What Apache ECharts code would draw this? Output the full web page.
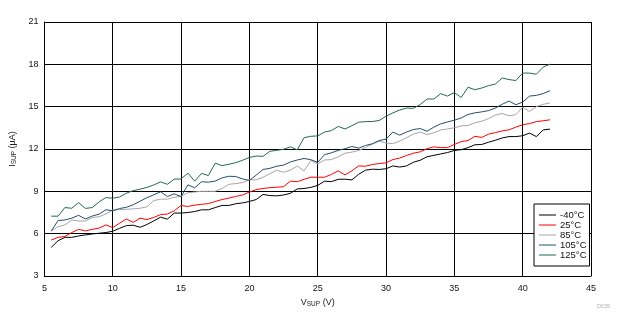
<!DOCTYPE html>
<html>
<head>
<meta charset="utf-8">
<script src="https://cdn.jsdelivr.net/npm/echarts@6/dist/echarts.min.js"></script>
<style>
  html, body { margin: 0; padding: 0; background: #fff; }
  #chart { width: 624px; height: 328px; }
</style>
</head>
<body>
<div id="chart"></div>
<script>
// Supply voltage sweep, 0.5 V steps from 5.5 V to 42 V
const vSup = [];
for (let i = 0; i < 74; i++) vSup.push(5.5 + i * 0.5);

// Supply current (µA) per temperature
const iMinus40 = [5.03,5.5,5.74,5.74,5.84,5.91,5.98,6.03,6.08,6.17,6.38,6.57,6.6,6.45,6.65,6.9,7.17,7.03,7.46,7.46,
  7.5,7.57,7.69,7.69,7.85,8.0,8.0,8.12,8.18,8.28,8.42,8.78,8.7,8.68,8.74,8.86,9.17,9.2,9.28,9.42,
  9.72,9.69,9.85,9.86,9.81,10.21,10.5,10.57,10.55,10.6,10.8,10.72,10.8,11.06,11.2,11.45,11.55,11.65,11.75,11.9,
  11.95,12.1,12.3,12.32,12.48,12.62,12.78,12.88,12.88,12.94,13.13,12.88,13.35,13.41];
const i25 = [5.55,5.74,5.8,6.08,6.3,6.2,6.3,6.4,6.62,6.43,6.74,7.04,6.8,7.1,7.0,7.15,7.35,7.39,7.62,8.0,
  7.93,8.02,8.08,8.13,8.28,8.42,8.52,8.64,8.74,8.95,9.12,9.2,9.26,9.29,9.33,9.72,9.68,9.85,10.0,10.0,
  10.0,10.2,10.45,10.17,10.45,10.8,10.78,10.9,10.97,11.02,11.25,11.36,11.54,11.7,11.8,12.02,12.15,12.1,12.1,12.32,
  12.52,12.6,12.9,12.82,13.05,13.16,13.28,13.36,13.55,13.72,13.8,13.94,14.0,14.07];
const i85 = [6.19,6.5,6.62,6.97,6.9,6.9,7.14,7.2,7.4,7.68,7.7,7.73,7.76,7.8,7.9,8.35,8.44,8.45,8.58,8.65,
  8.9,8.95,9.0,9.0,9.0,9.2,9.5,9.55,9.62,9.82,9.82,10.0,10.25,10.5,10.35,10.5,10.8,10.45,11.19,10.95,
  11.22,11.25,11.45,11.7,11.78,11.9,12.1,12.35,12.56,12.42,12.38,12.56,12.8,13.05,13.2,13.02,13.15,13.35,13.42,13.5,
  13.64,13.66,13.86,13.97,14.15,14.4,14.52,14.35,14.43,14.97,14.66,15.0,15.17,15.26];
const i105 = [6.19,6.93,6.97,7.1,7.3,7.04,7.25,7.38,7.7,7.62,7.78,7.87,8.05,8.3,8.55,8.75,8.97,8.63,8.82,8.63,
  9.46,9.25,9.68,9.65,9.73,9.95,10.07,10.05,9.88,9.77,10.15,10.55,10.63,10.78,10.86,11.08,11.22,11.33,11.24,11.05,
  11.6,11.73,11.9,12.02,12.18,12.06,12.25,12.37,12.6,12.7,13.2,12.98,13.2,13.38,13.45,13.26,13.55,13.78,13.92,14.04,
  14.2,14.45,14.56,14.63,14.72,14.9,15.17,15.4,15.14,15.32,15.75,15.8,15.93,16.13];
const i125 = [7.24,7.24,7.85,7.8,8.2,7.79,7.85,8.25,8.56,8.51,8.6,8.87,9.05,9.15,9.28,9.45,9.67,9.5,9.86,9.88,
  10.29,9.72,10.27,10.12,11.0,10.82,10.92,11.03,11.2,11.4,11.5,11.48,11.84,11.9,11.98,12.16,11.94,12.8,12.9,12.93,
  13.2,13.3,13.6,13.42,13.65,13.9,13.94,13.95,14.02,14.32,14.56,14.76,14.9,14.88,15.15,15.54,15.54,15.92,15.75,16.0,
  15.65,16.38,16.2,16.32,16.49,16.6,17.03,16.92,16.85,17.38,17.38,17.3,17.8,18.02];

const seriesNames = ['-40°C', '25°C', '85°C', '105°C', '125°C'];
const seriesColors = ['#000000', '#ff0000', '#a6a6a6', '#22506a', '#216b4d'];
const seriesData = [iMinus40, i25, i85, i105, i125];

const FONT = 'Arial, "Liberation Sans", sans-serif';
// thin horizontal bar used as the legend key
const LINE_ICON = 'path://M0,0H17V1H0Z';

const chart = echarts.init(document.getElementById('chart'), null, { renderer: 'canvas' });

chart.setOption({
  animation: false,
  backgroundColor: '#ffffff',
  grid: { left: 43, top: 22, right: 33, bottom: 52, containLabel: false },
  xAxis: {
    type: 'value',
    min: 5, max: 45, interval: 5,
    name: '{m|V}{s|SUP}{m| (V)}',
    nameLocation: 'middle',
    nameGap: 19,
    nameTextStyle: {
      rich: {
        m: { fontFamily: FONT, fontSize: 9, color: '#222' },
        s: { fontFamily: FONT, fontSize: 6.5, color: '#222', verticalAlign: 'bottom', padding: [3, 0, 0, 0] }
      }
    },
    axisLine: { show: true, lineStyle: { color: '#000', width: 1 } },
    axisTick: { show: false },
    axisLabel: { fontFamily: FONT, fontSize: 9, color: '#111', margin: 8 },
    splitLine: { show: true, lineStyle: { color: '#000', width: 1 } }
  },
  yAxis: {
    type: 'value',
    min: 3, max: 21, interval: 3,
    name: '{m|I}{s|SUP}{m| (µA)}',
    nameLocation: 'middle',
    nameGap: 22,
    nameTextStyle: {
      rich: {
        m: { fontFamily: FONT, fontSize: 9, color: '#222' },
        s: { fontFamily: FONT, fontSize: 6.5, color: '#222', verticalAlign: 'bottom', padding: [3, 0, 0, 0] }
      }
    },
    axisLine: { show: true, lineStyle: { color: '#000', width: 1 } },
    axisTick: { show: false },
    axisLabel: { fontFamily: FONT, fontSize: 9, color: '#111', margin: 6 },
    splitLine: { show: true, lineStyle: { color: '#000', width: 1 } }
  },
  legend: {
    orient: 'vertical',
    left: 534, top: 204,
    padding: [6, 3, 6, 5],
    itemGap: 0,
    itemWidth: 17,
    itemHeight: 12,
    symbolKeepAspect: true,
    backgroundColor: '#fff',
    borderColor: '#000',
    borderWidth: 1,
    borderRadius: 0,
    textStyle: { fontFamily: FONT, fontSize: 9.5, color: '#111', padding: [0, 0, 0, -1] },
    data: seriesNames.map((name, k) => ({
      name: name,
      icon: LINE_ICON,
      itemStyle: { color: seriesColors[k], borderWidth: 0 }
    }))
  },
  graphic: [{
    type: 'text',
    left: 597, top: 303,
    style: { text: 'D035', fontFamily: FONT, fontSize: 5.5, fill: '#b0b0b0' }
  }],
  series: seriesNames.map((name, k) => ({
    name: name,
    type: 'line',
    data: vSup.map((v, i) => [v, seriesData[k][i]]),
    showSymbol: false,
    symbol: 'none',
    lineStyle: { color: seriesColors[k], width: 1 },
    itemStyle: { color: seriesColors[k] },
    z: 3
  }))
});
</script>
</body>
</html>
